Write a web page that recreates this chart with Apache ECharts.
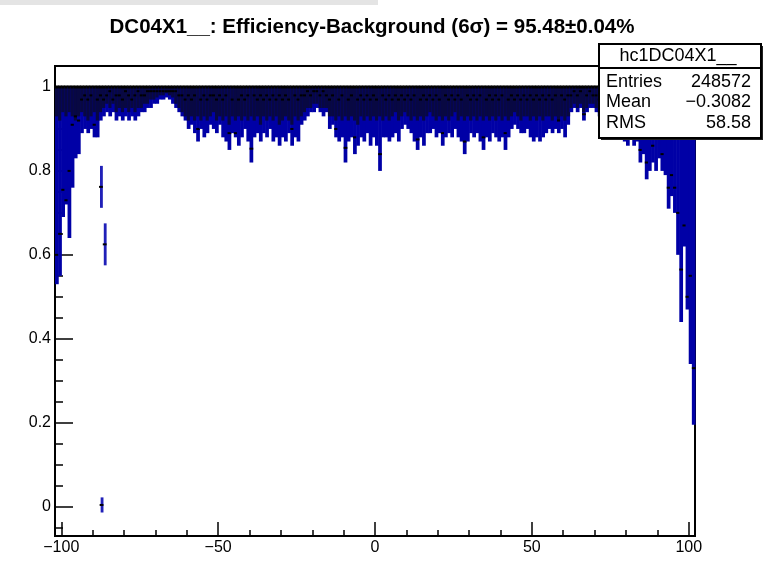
<!DOCTYPE html>
<html>
<head>
<meta charset="utf-8">
<script src="https://cdn.jsdelivr.net/npm/echarts@6/dist/echarts.min.js"></script>
<style>
  html, body { margin: 0; padding: 0; background: #fff; }
  #chart { width: 769px; height: 563px; }
</style>
</head>
<body>
<div id="chart"></div>
<script>
// Histogram axis definition: 204 channels of width 1 between -102 and 102
const histXMin = -102;
const histXMax = 102;
const binWidth = 1;
const effUpper = 1; // efficiency interval is clipped at 1

// Lower end of the efficiency interval for each channel
const effLow = [
  0.53, 0.55, 0.69, 0.72, 0.64, 0.76, 0.83, 0.84, 0.89, 0.90,
  0.89, 0.90, 0.88, 0.88, 0.92, 0.93, 0.94, 0.93, 0.94, 0.92,
  0.93, 0.92, 0.93, 0.92, 0.93, 0.92, 0.93, 0.94, 0.94, 0.95,
  0.95, 0.96, 0.96, 0.97, 0.97, 0.975, 0.97, 0.96, 0.95, 0.94,
  0.93, 0.92, 0.90, 0.91, 0.89, 0.87, 0.90, 0.88, 0.89, 0.91,
  0.90, 0.89, 0.91, 0.88, 0.87, 0.85, 0.89, 0.88, 0.86, 0.88,
  0.90, 0.87, 0.82, 0.88, 0.89, 0.87, 0.89, 0.88, 0.90, 0.87,
  0.88, 0.86, 0.88, 0.87, 0.89, 0.86, 0.88, 0.87, 0.91, 0.92,
  0.93, 0.94, 0.94, 0.95, 0.94, 0.93, 0.94, 0.90, 0.91, 0.88,
  0.87, 0.88, 0.82, 0.87, 0.88, 0.84, 0.86, 0.88, 0.87, 0.89,
  0.86, 0.88, 0.86, 0.80, 0.88, 0.88, 0.87, 0.88, 0.89, 0.87,
  0.90, 0.91, 0.90, 0.89, 0.87, 0.85, 0.88, 0.86, 0.89, 0.89,
  0.90, 0.88, 0.89, 0.86, 0.88, 0.89, 0.88, 0.90, 0.88, 0.87,
  0.84, 0.87, 0.89, 0.88, 0.89, 0.87, 0.85, 0.88, 0.87, 0.89,
  0.88, 0.87, 0.88, 0.85, 0.88, 0.90, 0.91, 0.90, 0.89, 0.89,
  0.90, 0.88, 0.87, 0.88, 0.87, 0.88, 0.89, 0.90, 0.89, 0.90,
  0.89, 0.90, 0.88, 0.91, 0.94, 0.95, 0.94, 0.95, 0.92, 0.94,
  0.95, 0.95, 0.94, 0.93, 0.90, 0.90, 0.89, 0.91, 0.89, 0.90,
  0.88, 0.87, 0.86, 0.88, 0.86, 0.87, 0.82, 0.84, 0.78, 0.80,
  0.82, 0.80, 0.83, 0.80, 0.79, 0.71, 0.74, 0.70, 0.60, 0.44,
  0.62, 0.47, 0.34, 0.195
];

// Bottom of the dense core of each channel's distribution
const effCore = [
  0.93, 0.92, 0.94, 0.93, 0.94, 0.93, 0.92, 0.93, 0.94, 0.93,
  0.92, 0.93, 0.94, 0.92, 0.94, 0.95, 0.96, 0.95, 0.96, 0.94,
  0.95, 0.94, 0.95, 0.94, 0.95, 0.94, 0.95, 0.95, 0.96, 0.96,
  0.97, 0.97, 0.975, 0.98, 0.98, 0.985, 0.98, 0.975, 0.96, 0.95,
  0.94, 0.93, 0.92, 0.93, 0.92, 0.93, 0.92, 0.93, 0.92, 0.93,
  0.94, 0.92, 0.93, 0.92, 0.93, 0.91, 0.93, 0.92, 0.93, 0.92,
  0.93, 0.92, 0.93, 0.92, 0.93, 0.91, 0.93, 0.92, 0.93, 0.92,
  0.93, 0.91, 0.92, 0.93, 0.92, 0.91, 0.93, 0.92, 0.93, 0.94,
  0.95, 0.95, 0.96, 0.96, 0.95, 0.95, 0.95, 0.93, 0.93, 0.92,
  0.93, 0.92, 0.93, 0.92, 0.93, 0.92, 0.91, 0.93, 0.92, 0.93,
  0.92, 0.93, 0.92, 0.93, 0.92, 0.93, 0.92, 0.93, 0.94, 0.92,
  0.93, 0.94, 0.93, 0.92, 0.93, 0.92, 0.93, 0.92, 0.93, 0.94,
  0.93, 0.92, 0.93, 0.92, 0.93, 0.92, 0.93, 0.94, 0.92, 0.93,
  0.92, 0.93, 0.92, 0.93, 0.92, 0.93, 0.92, 0.93, 0.92, 0.93,
  0.92, 0.93, 0.92, 0.93, 0.92, 0.93, 0.94, 0.93, 0.92, 0.93,
  0.93, 0.92, 0.93, 0.92, 0.93, 0.92, 0.93, 0.93, 0.92, 0.93,
  0.92, 0.93, 0.92, 0.93, 0.95, 0.96, 0.95, 0.96, 0.94, 0.95,
  0.96, 0.96, 0.95, 0.94, 0.93, 0.92, 0.93, 0.92, 0.93, 0.92,
  0.93, 0.92, 0.93, 0.92, 0.93, 0.92, 0.91, 0.92, 0.91, 0.92,
  0.91, 0.92, 0.91, 0.92, 0.91, 0.92, 0.91, 0.92, 0.93, 0.92,
  0.93, 0.92, 0.93, 0.94
];

// Measured efficiency of each channel (marker position)
const effMark = [
  0.60, 0.65, 0.755, 0.73, 0.80, 0.91, 0.93, 0.92, 0.97, 0.98,
  0.97, 0.98, 0.91, 0.97, 0.98, 0.97, 0.98, 0.99, 0.97, 0.98,
  0.98, 0.97, 0.99, 0.98, 0.97, 0.98, 0.99, 0.98, 0.98, 0.99,
  0.99, 0.99, 0.99, 0.99, 0.99, 0.99, 0.99, 0.99, 0.99, 0.98,
  0.98, 0.97, 0.98, 0.97, 0.98, 0.90, 0.97, 0.98, 0.97, 0.98,
  0.98, 0.97, 0.98, 0.97, 0.98, 0.89, 0.97, 0.89, 0.97, 0.98,
  0.97, 0.98, 0.853, 0.98, 0.97, 0.98, 0.97, 0.98, 0.97, 0.98,
  0.97, 0.98, 0.97, 0.98, 0.97, 0.90, 0.98, 0.97, 0.98, 0.98,
  0.99, 0.98, 0.99, 0.99, 0.98, 0.99, 0.98, 0.97, 0.98, 0.90,
  0.97, 0.98, 0.855, 0.97, 0.98, 0.88, 0.97, 0.98, 0.97, 0.98,
  0.97, 0.98, 0.97, 0.84, 0.98, 0.97, 0.98, 0.97, 0.98, 0.97,
  0.98, 0.97, 0.98, 0.97, 0.98, 0.875, 0.97, 0.98, 0.97, 0.98,
  0.97, 0.98, 0.97, 0.89, 0.98, 0.97, 0.98, 0.97, 0.98, 0.97,
  0.87, 0.98, 0.97, 0.98, 0.97, 0.98, 0.88, 0.97, 0.98, 0.97,
  0.98, 0.97, 0.98, 0.89, 0.97, 0.98, 0.97, 0.98, 0.97, 0.98,
  0.97, 0.98, 0.97, 0.98, 0.97, 0.98, 0.97, 0.98, 0.97, 0.98,
  0.92, 0.98, 0.97, 0.98, 0.98, 0.99, 0.98, 0.99, 0.935, 0.98,
  0.99, 0.98, 0.98, 0.97, 0.98, 0.97, 0.98, 0.97, 0.98, 0.97,
  0.98, 0.97, 0.98, 0.97, 0.98, 0.97, 0.85, 0.97, 0.82, 0.97,
  0.86, 0.97, 0.96, 0.84, 0.97, 0.76, 0.79, 0.76, 0.70, 0.565,
  0.67, 0.50, 0.55, 0.33
];

// Isolated entries near channel -87
const outlierX = [-87.2, -86.0, -87.0];
const outlierEff = [0.762, 0.625, 0.004];
const outlierErr = [0.05, 0.05, 0.018];

// Axis ticks and labels
const xMajorTicks = [-100, -50, 0, 50, 100];
const xMinorTicks = [-90, -80, -70, -60, -40, -30, -20, -10, 10, 20, 30, 40, 60, 70, 80, 90];
const yMajorTicks = [0, 0.2, 0.4, 0.6, 0.8, 1];
const yMinorTicks = [-0.05, 0.05, 0.1, 0.15, 0.25, 0.3, 0.35, 0.45, 0.5, 0.55, 0.65, 0.7, 0.75, 0.85, 0.9, 0.95];

// Stats panel
const statsTitle = 'hc1DC04X1__';
const statsNames = ['Entries', 'Mean', 'RMS'];
const statsValues = ['248572', '\u22120.3082', '58.58'];
const chartTitle = 'DC04X1__: Efficiency-Background (6\u03c3) = 95.48\u00b10.04%';

const FONT = '"Liberation Sans", Arial, Helvetica, sans-serif';
const BLUE = '#0000a6';
const NAVY = '#080842';

const binData = effLow.map((lo, i) => [histXMin + binWidth * (i + 0.5), lo, effCore[i], effMark[i]]);
const outlierData = outlierX.map((x, i) => [x, outlierEff[i], outlierErr[i]]);

function renderBin(params, api) {
  const x = api.value(0);
  const lo = api.value(1);
  const core = Math.max(api.value(2), lo);
  const mark = api.value(3);
  const top = api.coord([x - binWidth / 2, effUpper]);
  const bot = api.coord([x + binWidth / 2, lo]);
  const corePt = api.coord([x, core]);
  const markPt = api.coord([x, mark]);
  const w = bot[0] - top[0] + 0.6;
  return {
    type: 'group',
    children: [
      { type: 'rect', shape: { x: top[0], y: top[1], width: w, height: bot[1] - top[1] }, style: { fill: BLUE } },
      { type: 'rect', shape: { x: top[0], y: top[1], width: w, height: corePt[1] - top[1] }, style: { fill: NAVY } },
      { type: 'rect', shape: { x: top[0], y: top[1] - 1.5, width: w, height: 3 }, style: { fill: '#000' } },
      { type: 'rect', shape: { x: top[0], y: markPt[1] - 1, width: w, height: 2 }, style: { fill: '#000' } }
    ]
  };
}

function renderOutlier(params, api) {
  const x = api.value(0);
  const eff = api.value(1);
  const err = api.value(2);
  const hi = api.coord([x - 0.45, eff + err]);
  const lo = api.coord([x + 0.45, eff - err]);
  const mid = api.coord([x, eff]);
  return {
    type: 'group',
    children: [
      { type: 'rect', shape: { x: hi[0], y: hi[1], width: lo[0] - hi[0], height: lo[1] - hi[1] }, style: { fill: '#2020b8' } },
      { type: 'rect', shape: { x: hi[0] - 1, y: mid[1] - 1, width: lo[0] - hi[0] + 1, height: 2 }, style: { fill: '#000' } }
    ]
  };
}

const chart = echarts.init(document.getElementById('chart'), null, { renderer: 'canvas' });

const axisText = { color: '#000', fontSize: 16, fontFamily: FONT };
const statFont = '18px ' + FONT;
const BOX_X = 599, BOX_Y = 44, BOX_W = 162, BOX_H = 94;

function statText(text, x, y, align) {
  return { type: 'text', x: x, y: y, z: 100,
    style: { text: text, fill: '#000', font: statFont, align: align, verticalAlign: 'middle' } };
}

chart.setOption({
  animation: false,
  backgroundColor: '#fff',
  grid: {
    left: 55, top: 66, width: 640, height: 470,
    show: true, borderColor: '#000', borderWidth: 2, backgroundColor: 'transparent'
  },
  xAxis: [
    {
      type: 'value', min: histXMin, max: histXMax, position: 'bottom',
      axisLine: { show: true, onZero: false, lineStyle: { color: '#000', width: 2 } },
      axisTick: { show: true, inside: true, length: 14, customValues: xMajorTicks, lineStyle: { color: '#000', width: 1.5 } },
      axisLabel: Object.assign({ customValues: xMajorTicks, margin: 4,
        formatter: v => String(v).replace('-', '\u2212') }, axisText),
      splitLine: { show: false }
    },
    {
      type: 'value', min: histXMin, max: histXMax, position: 'bottom',
      axisLine: { show: false, onZero: false },
      axisTick: { show: true, inside: true, length: 6, customValues: xMinorTicks, lineStyle: { color: '#000', width: 1.5 } },
      axisLabel: { show: false },
      splitLine: { show: false }
    }
  ],
  yAxis: [
    {
      type: 'value', min: -0.07, max: 1.05, position: 'left',
      axisLine: { show: true, onZero: false, lineStyle: { color: '#000', width: 2 } },
      axisTick: { show: true, inside: true, length: 18, customValues: yMajorTicks, lineStyle: { color: '#000', width: 1.5 } },
      axisLabel: Object.assign({ customValues: yMajorTicks, margin: 4,
        formatter: v => String(Math.round(v * 10) / 10) }, axisText),
      splitLine: { show: false }
    },
    {
      type: 'value', min: -0.07, max: 1.05, position: 'left',
      axisLine: { show: false, onZero: false },
      axisTick: { show: true, inside: true, length: 8, customValues: yMinorTicks, lineStyle: { color: '#000', width: 1.5 } },
      axisLabel: { show: false },
      splitLine: { show: false }
    }
  ],
  series: [
    {
      type: 'custom', xAxisIndex: 0, yAxisIndex: 0, z: 2,
      renderItem: renderBin, data: binData, silent: true
    },
    {
      type: 'custom', xAxisIndex: 0, yAxisIndex: 0, z: 3,
      renderItem: renderOutlier, data: outlierData, silent: true
    }
  ],
  graphic: [
    { type: 'rect', x: 0, y: 0, z: 100, shape: { width: 378, height: 5 }, style: { fill: '#e4e4e4' } },
    {
      type: 'text', x: 372, y: 27, z: 100,
      style: { text: chartTitle, fill: '#000', font: 'bold 20.5px ' + FONT, align: 'center', verticalAlign: 'middle' }
    },
    { type: 'rect', x: BOX_X + 2, y: BOX_Y + 2, z: 100, shape: { width: BOX_W, height: BOX_H }, style: { fill: '#222' } },
    { type: 'rect', x: BOX_X, y: BOX_Y, z: 101, shape: { width: BOX_W, height: BOX_H }, style: { fill: '#fff', stroke: '#000', lineWidth: 2 } },
    { type: 'line', x: BOX_X, y: BOX_Y, z: 102, shape: { x1: 0, y1: 24, x2: BOX_W, y2: 24 }, style: { stroke: '#000', lineWidth: 2 } },
    Object.assign(statText(statsTitle, BOX_X + 79, BOX_Y + 12, 'center'), { z: 102 }),
    Object.assign(statText(statsNames[0], BOX_X + 7, BOX_Y + 38, 'left'), { z: 102 }),
    Object.assign(statText(statsValues[0], BOX_X + 152, BOX_Y + 38, 'right'), { z: 102 }),
    Object.assign(statText(statsNames[1], BOX_X + 7, BOX_Y + 58, 'left'), { z: 102 }),
    Object.assign(statText(statsValues[1], BOX_X + 152, BOX_Y + 58, 'right'), { z: 102 }),
    Object.assign(statText(statsNames[2], BOX_X + 7, BOX_Y + 79, 'left'), { z: 102 }),
    Object.assign(statText(statsValues[2], BOX_X + 152, BOX_Y + 79, 'right'), { z: 102 })
  ]
});
</script>
</body>
</html>
